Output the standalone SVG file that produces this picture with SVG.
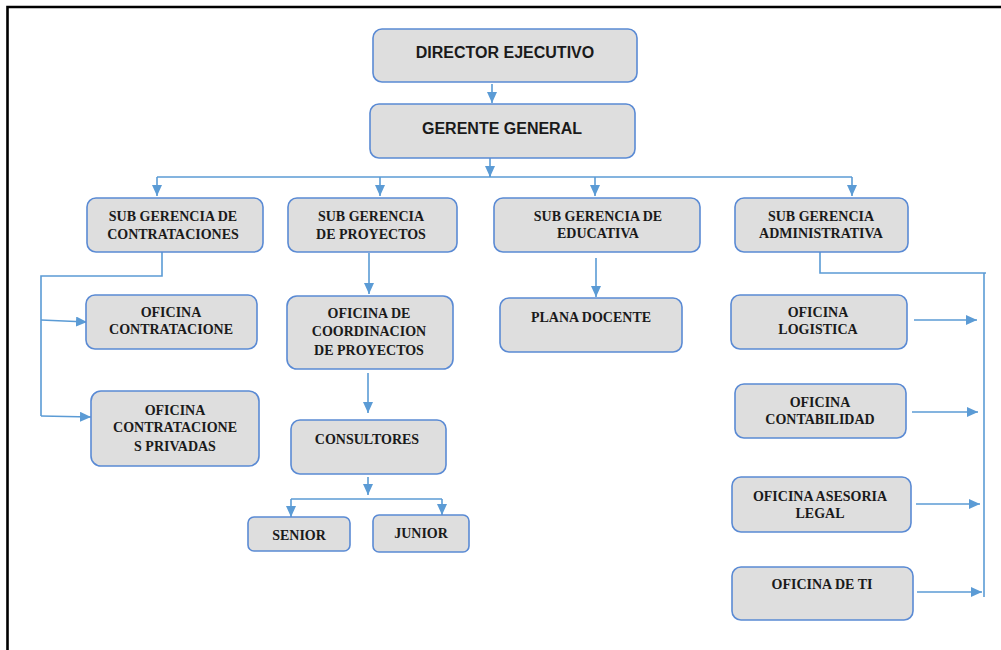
<svg xmlns="http://www.w3.org/2000/svg" width="1001" height="650" viewBox="0 0 1001 650">
<defs>
<marker id="ah" markerUnits="userSpaceOnUse" markerWidth="12" markerHeight="10" viewBox="0 0 12 10" refX="11" refY="5" orient="auto">
<path d="M0,0 L11,5 L0,10 Z" fill="#5b9bd5"/>
</marker>
<style>
.box{fill:#dedede;stroke:#5a8ad4;stroke-width:1.6}
.c{fill:none;stroke:#5b9bd5;stroke-width:1.6}
.a{fill:none;stroke:#5b9bd5;stroke-width:1.6;marker-end:url(#ah)}
.ts{font-family:"Liberation Sans",Arial,sans-serif;font-weight:bold;font-size:16px;fill:#1a1a1a;text-anchor:middle}
.tr{font-family:"Liberation Serif","Times New Roman",serif;font-weight:bold;font-size:14px;fill:#1a1a1a;text-anchor:middle}
</style>
</defs>
<rect x="0" y="0" width="1001" height="650" fill="#ffffff"/>
<path d="M7.5,650 V7 H1001" fill="none" stroke="#000" stroke-width="2.6"/>

<g id="connectors">
<line class="a" x1="492" y1="84" x2="492" y2="103"/>
<line class="c" x1="490" y1="158" x2="490" y2="177"/>
<line class="a" x1="490" y1="170" x2="490" y2="177"/>
<line class="c" x1="157" y1="177" x2="852" y2="177"/>
<line class="a" x1="157" y1="177" x2="157" y2="196"/>
<line class="a" x1="380" y1="177" x2="380" y2="196"/>
<line class="a" x1="595" y1="177" x2="595" y2="196"/>
<line class="a" x1="852" y1="177" x2="852" y2="196"/>
<polyline class="c" points="162,252 162,276 41,276 41,416"/>
<line class="a" x1="41" y1="320" x2="87" y2="322"/>
<line class="a" x1="41" y1="416" x2="91" y2="417"/>
<line class="a" x1="369" y1="253" x2="369" y2="294"/>
<line class="a" x1="368" y1="373" x2="368" y2="413"/>
<line class="a" x1="368" y1="477" x2="368" y2="495"/>
<line class="c" x1="291" y1="499" x2="442" y2="499"/>
<line class="a" x1="291" y1="499" x2="291" y2="517"/>
<line class="a" x1="442" y1="499" x2="442" y2="515"/>
<line class="a" x1="596" y1="258" x2="596" y2="297"/>
<polyline class="c" points="820,252 820,273 986,273"/>
<line class="c" x1="984" y1="273" x2="984" y2="597"/>
<line class="a" x1="914" y1="320" x2="977" y2="320"/>
<line class="a" x1="912" y1="412" x2="978" y2="412"/>
<line class="a" x1="916" y1="504" x2="980" y2="504"/>
<line class="a" x1="917" y1="592" x2="982" y2="592"/>
</g>

<g id="director">
<rect class="box" x="373" y="29" width="264" height="53" rx="9"/>
<text class="ts" x="505" y="58">DIRECTOR EJECUTIVO</text>
</g>
<g id="gerente">
<rect class="box" x="370" y="104" width="265" height="54" rx="9"/>
<text class="ts" x="502" y="134">GERENTE GENERAL</text>
</g>

<g id="sg-contrataciones">
<rect class="box" x="87" y="198" width="176" height="54" rx="9"/>
<text class="tr" x="173" y="221">SUB GERENCIA DE</text>
<text class="tr" x="173" y="239">CONTRATACIONES</text>
</g>
<g id="sg-proyectos">
<rect class="box" x="288" y="198" width="169" height="54" rx="9"/>
<text class="tr" x="371" y="221">SUB GERENCIA</text>
<text class="tr" x="371" y="239">DE PROYECTOS</text>
</g>
<g id="sg-educativa">
<rect class="box" x="494" y="198" width="206" height="54" rx="9"/>
<text class="tr" x="598" y="221">SUB GERENCIA DE</text>
<text class="tr" x="598" y="238">EDUCATIVA</text>
</g>
<g id="sg-administrativa">
<rect class="box" x="735" y="198" width="173" height="54" rx="9"/>
<text class="tr" x="821" y="221">SUB GERENCIA</text>
<text class="tr" x="821" y="238">ADMINISTRATIVA</text>
</g>

<g id="of-contratacione">
<rect class="box" x="86" y="295" width="171" height="54" rx="9"/>
<text class="tr" x="171" y="317">OFICINA</text>
<text class="tr" x="171" y="334">CONTRATACIONE</text>
</g>
<g id="of-privadas">
<rect class="box" x="91" y="391" width="168" height="75" rx="10"/>
<text class="tr" x="175" y="415">OFICINA</text>
<text class="tr" x="175" y="432">CONTRATACIONE</text>
<text class="tr" x="175" y="451">S PRIVADAS</text>
</g>
<g id="of-coordinacion">
<rect class="box" x="287" y="296" width="166" height="73" rx="10"/>
<text class="tr" x="369" y="318">OFICINA DE</text>
<text class="tr" x="369" y="336">COORDINACION</text>
<text class="tr" x="369" y="355">DE PROYECTOS</text>
</g>
<g id="consultores">
<rect class="box" x="291" y="420" width="155" height="54" rx="9"/>
<text class="tr" x="367" y="444">CONSULTORES</text>
</g>
<g id="senior">
<rect class="box" x="248" y="517" width="102" height="34" rx="6"/>
<text class="tr" x="299" y="540">SENIOR</text>
</g>
<g id="junior">
<rect class="box" x="373" y="515" width="96" height="37" rx="6"/>
<text class="tr" x="421" y="538">JUNIOR</text>
</g>
<g id="plana-docente">
<rect class="box" x="500" y="298" width="182" height="54" rx="9"/>
<text class="tr" x="591" y="322">PLANA DOCENTE</text>
</g>
<g id="of-logistica">
<rect class="box" x="731" y="295" width="176" height="54" rx="9"/>
<text class="tr" x="818" y="317">OFICINA</text>
<text class="tr" x="818" y="334">LOGISTICA</text>
</g>
<g id="of-contabilidad">
<rect class="box" x="735" y="384" width="171" height="54" rx="9"/>
<text class="tr" x="820" y="407">OFICINA</text>
<text class="tr" x="820" y="424">CONTABILIDAD</text>
</g>
<g id="of-asesoria">
<rect class="box" x="732" y="477" width="179" height="55" rx="9"/>
<text class="tr" x="820" y="501">OFICINA ASESORIA</text>
<text class="tr" x="820" y="518">LEGAL</text>
</g>
<g id="of-ti">
<rect class="box" x="732" y="567" width="181" height="53" rx="9"/>
<text class="tr" x="822" y="589">OFICINA DE TI</text>
</g>
</svg>
